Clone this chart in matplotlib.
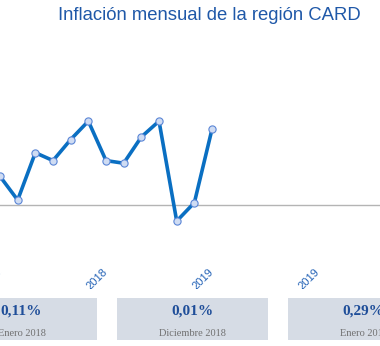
import matplotlib
matplotlib.use("Agg")
import matplotlib.pyplot as plt
from matplotlib.patches import Rectangle
from matplotlib.transforms import blended_transform_factory

# ---- data ----
months = list(range(13))  # Jan 2018 .. Jan 2019
inflation = [0.11, 0.02, 0.20, 0.17, 0.25, 0.32, 0.17, 0.16, 0.26, 0.32, -0.06, 0.01, 0.29]
tick_pos = [0, 6, 12, 18]
tick_labels = ["2018", "2018", "2019", "2019"]
box_values = ["0,11%", "0,01%", "0,29%"]
box_labels = ["Enero 2018", "Diciembre 2018", "Enero 2019"]

W, H = 380, 346
fig = plt.figure(figsize=(W / 100, H / 100), dpi=100)
fig.patch.set_facecolor("white")

ax_bottom_px = 289
ax = fig.add_axes([0, (H - ax_bottom_px) / H, 1, ax_bottom_px / H])
ax.set_axis_off()

px_per_month = 17.67
px_per_unit = 263.0
zero_px = 205.3
ax.set_xlim(0, W / px_per_month)
ax.set_ylim(-(ax_bottom_px - zero_px) / px_per_unit, zero_px / px_per_unit)

ax.axhline(0, color="#b4b4b4", lw=1.0, zorder=1)
ax.plot(months, inflation, color="#0a6fc2", lw=2.6, zorder=2,
        marker="o", markersize=5.2, markerfacecolor="#cfdcf3",
        markeredgecolor="#5b86d6", markeredgewidth=0.8)

tr = blended_transform_factory(ax.transData, ax.transAxes)
for p, lab in zip(tick_pos, tick_labels):
    ax.text(p - 0.02, (ax_bottom_px - 270) / ax_bottom_px, lab, transform=tr,
            rotation=45, rotation_mode="anchor", ha="right", va="center",
            fontsize=8, color="#2362b6", family="Liberation Sans",
            clip_on=True)

fig.text(209.5 / W, 1 - 16 / H, "Inflación mensual de la región CARD",
         ha="center", va="center", fontsize=13.3, color="#1f58a8",
         family="Liberation Sans")

# summary boxes
box_w, box_h = 151, 42
box_x = [-54, 117, 288]
box_top = 298
for x0, v, lab in zip(box_x, box_values, box_labels):
    fig.patches.append(Rectangle((x0 / W, 1 - (box_top + box_h) / H), box_w / W, box_h / H,
                                 transform=fig.transFigure, facecolor="#d6dce5",
                                 edgecolor="none", zorder=0))
    cx = (x0 + box_w / 2) / W
    fig.text(cx, 1 - 311 / H, v, ha="center", va="center", fontsize=11,
             fontweight="bold", color="#1f4e99", family="Liberation Serif")
    fig.text(cx, 1 - 333 / H, lab, ha="center", va="center", fontsize=7.5,
             color="#707070", family="Liberation Serif")

fig.savefig("out.png", dpi=100, facecolor="white")
